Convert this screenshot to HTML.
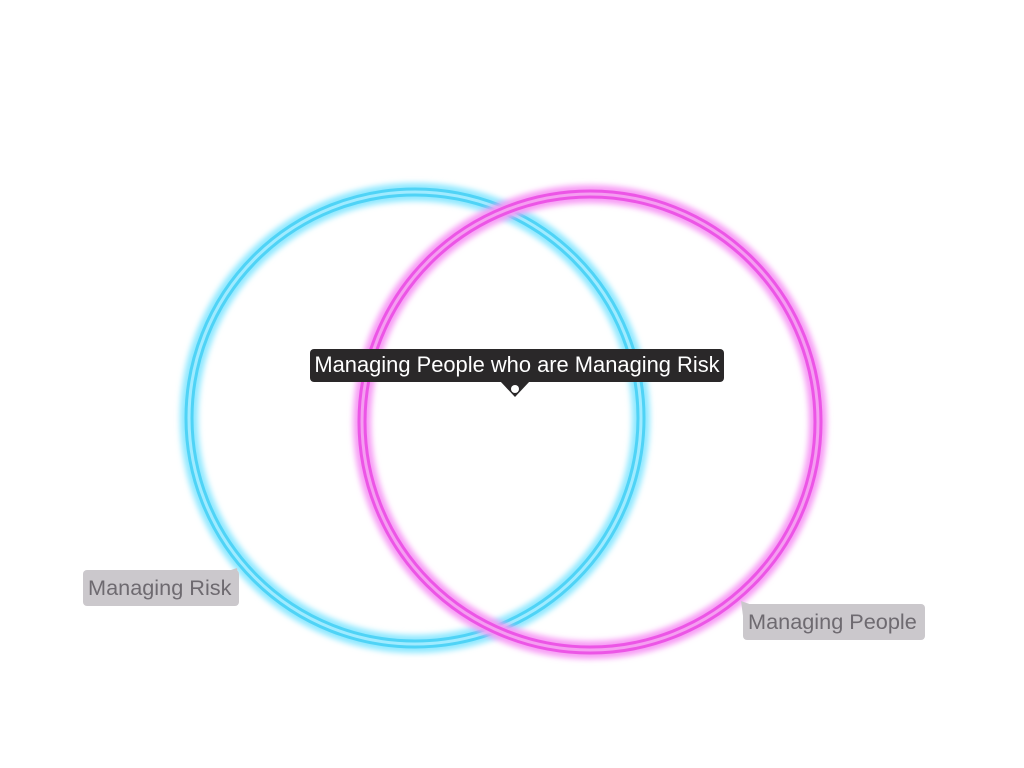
<!DOCTYPE html>
<html><head><meta charset="utf-8"><style>
html,body{margin:0;padding:0;background:#fff;width:1024px;height:768px;overflow:hidden;font-family:"Liberation Sans",sans-serif;}
.lbl{position:absolute;background:#cbc8cc;color:#6e6a70;font-size:21.7px;line-height:36px;border-radius:4px;box-sizing:border-box;padding-left:5px;white-space:nowrap;}
.dark{position:absolute;left:310px;top:349px;width:414px;height:33px;background:#2a2829;border-radius:4px;color:#fff;font-size:21.9px;line-height:31px;text-align:center;white-space:nowrap;}
</style></head><body>
<svg width="1024" height="768" style="position:absolute;left:0;top:0">
<defs><filter id="b" x="-20%" y="-20%" width="140%" height="140%"><feGaussianBlur stdDeviation="3"/></filter></defs>
<g fill="none">
<circle cx="415" cy="418" r="226" stroke="#8ee8ff" stroke-width="18" filter="url(#b)"/>
<circle cx="415" cy="418" r="226" stroke="#4fd3f6" stroke-width="9"/>
<circle cx="415" cy="418" r="226" stroke="#a0ebff" stroke-width="3"/>
<circle cx="590" cy="422" r="228" stroke="#f79bf5" stroke-width="18" filter="url(#b)"/>
<circle cx="590" cy="422" r="228" stroke="#ec55e6" stroke-width="9"/>
<circle cx="590" cy="422" r="228" stroke="#f59ef1" stroke-width="3"/>
</g>
<polygon points="500,381 530,381 515,397" fill="#2a2829"/>
<circle cx="515" cy="389" r="4" fill="#fff"/>
<polygon points="225,572 237,568 239,582" fill="#cbc8cc"/>
<polygon points="741,601 755,606 743,616" fill="#cbc8cc"/>
</svg>
<div class="dark">Managing People who are Managing Risk</div>
<div class="lbl" style="left:83px;top:570px;width:156px;height:36px;">Managing Risk</div>
<div class="lbl" style="left:743px;top:604px;width:182px;height:36px;">Managing People</div>
</body></html>
